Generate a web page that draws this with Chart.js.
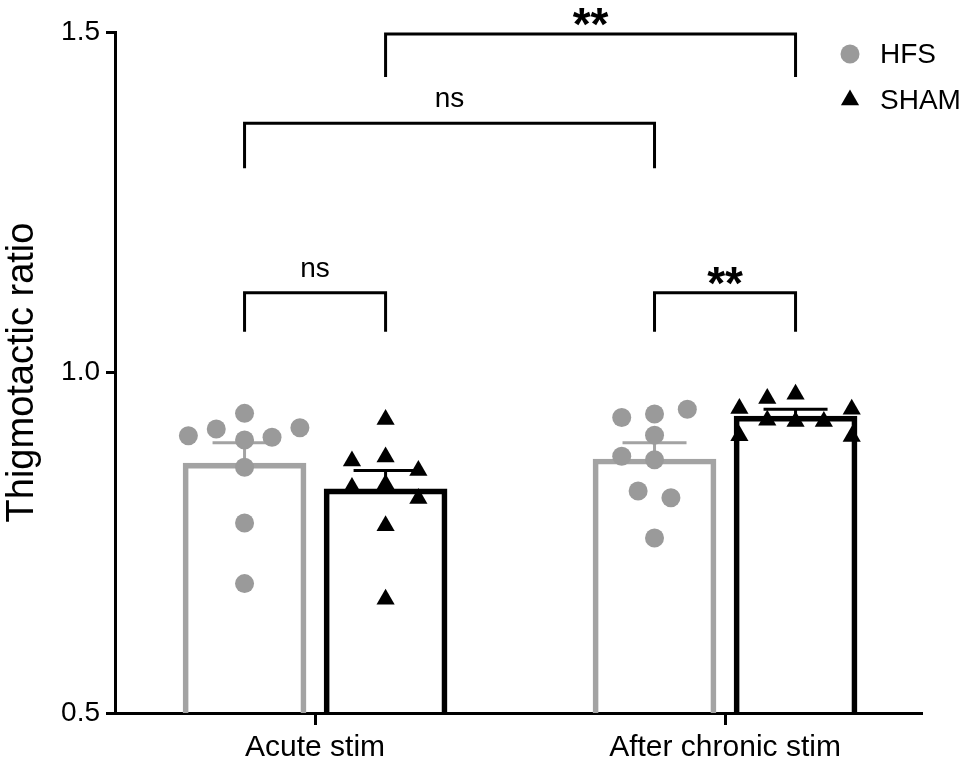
<!DOCTYPE html>
<html>
<head>
<meta charset="utf-8">
<title>Thigmotactic ratio</title>
<script src="https://cdn.jsdelivr.net/npm/chart.js@4.4.1/dist/chart.umd.min.js"></script>
<style>
  html, body { margin: 0; padding: 0; background: #fff; }
  #wrap { width: 968px; height: 760px; }
</style>
</head>
<body>
<div id="wrap"><canvas id="chart"></canvas></div>
<script>
const categories = ['Acute stim', 'After chronic stim'];
const yTicks = [0.5, 1.0, 1.5];

// bar heights (mean) and SEM, one per category
const hfsMean = [0.867, 0.873];
const hfsSem = [0.030, 0.024];
const shamMean = [0.829, 0.936];
const shamSem = [0.027, 0.010];

// single animals per category, with the horizontal spread used in the figure
const hfsPoints = [
  [0.907, 0.917, 0.940, 0.901, 0.905, 0.919, 0.861, 0.779, 0.690],
  [0.934, 0.939, 0.946, 0.908, 0.877, 0.872, 0.826, 0.816, 0.757]
];
const hfsJitter = [
  [-0.137, -0.069, 0, 0, 0.067, 0.135, 0, 0, 0],
  [-0.08, 0, 0.08, 0, -0.08, 0, -0.04, 0.04, 0]
];
const shamPoints = [
  [0.931, 0.870, 0.876, 0.856, 0.831, 0.836, 0.815, 0.775, 0.667],
  [0.947, 0.962, 0.968, 0.946, 0.930, 0.928, 0.928, 0.907, 0.906]
];
const shamJitter = [
  [0, -0.082, 0, 0.08, -0.082, 0, 0.08, 0, 0],
  [-0.137, -0.069, 0, 0.137, -0.069, 0, 0.069, -0.137, 0.137]
];

// significance brackets: from bar, to bar, line level, leg end, label
const brackets = [
  ['sham0', 'sham1', 1.497, 1.434, '**'],
  ['hfs0', 'hfs1', 1.366, 1.300, 'ns'],
  ['hfs0', 'sham0', 1.117, 1.060, 'ns'],
  ['hfs1', 'sham1', 1.117, 1.060, '**']
];

const GREY = '#a3a3a3';
const DOT_GREY = '#9a9a9a';
const BLACK = '#000000';
const FONT = '"Liberation Sans", Arial, Helvetica, sans-serif';
const BAR_OFF = 0.172;   // half distance between the two bars of a group

function barX(key) {
  const i = Number(key.slice(-1));
  return key.startsWith('hfs') ? i - BAR_OFF : i + BAR_OFF;
}

function pointsFor(values, jitter, off) {
  const out = [];
  values.forEach((list, c) => {
    list.forEach((v, k) => out.push({ x: c + off + jitter[c][k], y: v }));
  });
  return out;
}

// mean + SEM whisker above each bar, drawn in the bar colour
const errorBars = {
  id: 'errorBars',
  afterDatasetDraw(chart, args) {
    const ds = chart.data.datasets[args.index];
    if (!ds.sem) return;
    const ctx = chart.ctx;
    const y = chart.scales.y;
    ctx.save();
    ctx.strokeStyle = ds.borderColor;
    ctx.lineWidth = 3;
    args.meta.data.forEach((bar, i) => {
      const top = y.getPixelForValue(ds.data[i].y + ds.sem[i]);
      ctx.beginPath();
      ctx.moveTo(bar.x, bar.y);
      ctx.lineTo(bar.x, top);
      ctx.moveTo(bar.x - 32, top);
      ctx.lineTo(bar.x + 32, top);
      ctx.stroke();
    });
    ctx.restore();
  }
};

const sigBrackets = {
  id: 'sigBrackets',
  afterDraw(chart) {
    const ctx = chart.ctx;
    const xs = chart.scales.x, ys = chart.scales.y;
    ctx.save();
    ctx.strokeStyle = BLACK;
    ctx.fillStyle = BLACK;
    ctx.lineWidth = 3;
    ctx.lineJoin = 'miter';
    brackets.forEach(b => {
      const x1 = xs.getPixelForValue(barX(b[0]));
      const x2 = xs.getPixelForValue(barX(b[1]));
      const yl = ys.getPixelForValue(b[2]);
      const ye = ys.getPixelForValue(b[3]);
      ctx.beginPath();
      ctx.moveTo(x1, ye);
      ctx.lineTo(x1, yl);
      ctx.lineTo(x2, yl);
      ctx.lineTo(x2, ye);
      ctx.stroke();
      ctx.textAlign = 'center';
      ctx.textBaseline = 'alphabetic';
      if (b[4] === '**') {
        ctx.font = 'bold 46px ' + FONT;
        ctx.fillText(b[4], (x1 + x2) / 2, yl + 6);
      } else {
        ctx.font = '28px ' + FONT;
        ctx.fillText(b[4], (x1 + x2) / 2, yl - 16);
      }
    });
    ctx.restore();
  }
};

// legend in the top right corner, using the point styles of the scatter sets
const cornerLegend = {
  id: 'cornerLegend',
  afterDraw(chart) {
    const ctx = chart.ctx;
    const sets = chart.data.datasets.filter(d => d.type === 'scatter');
    ctx.save();
    sets.forEach((ds, i) => {
      const cy = 54 + i * 46;
      ctx.fillStyle = ds.backgroundColor;
      Chart.helpers.drawPoint(ctx, { pointStyle: ds.pointStyle, radius: ds.pointRadius, rotation: 0, borderWidth: 0 }, 850, cy);
      ctx.fillStyle = BLACK;
      ctx.font = '28px ' + FONT;
      ctx.textAlign = 'left';
      ctx.textBaseline = 'middle';
      ctx.fillText(ds.label, 880, cy + 1);
    });
    ctx.restore();
  }
};

const ctx = document.getElementById('chart').getContext('2d');
new Chart(ctx, {
  data: {
    datasets: [
      {
        type: 'bar',
        label: 'HFS',
        data: hfsMean.map((v, i) => ({ x: i - BAR_OFF, y: v })),
        sem: hfsSem,
        backgroundColor: 'rgba(255,255,255,0)',
        borderColor: GREY,
        borderWidth: 5,
        borderSkipped: 'bottom',
        grouped: false,
        maxBarThickness: 123,
        categoryPercentage: 1,
        barPercentage: 1,
        order: 2
      },
      {
        type: 'bar',
        label: 'SHAM',
        data: shamMean.map((v, i) => ({ x: i + BAR_OFF, y: v })),
        sem: shamSem,
        backgroundColor: 'rgba(255,255,255,0)',
        borderColor: BLACK,
        borderWidth: 5,
        borderSkipped: 'bottom',
        grouped: false,
        maxBarThickness: 123,
        categoryPercentage: 1,
        barPercentage: 1,
        order: 2
      },
      {
        type: 'scatter',
        label: 'HFS',
        data: pointsFor(hfsPoints, hfsJitter, -BAR_OFF),
        pointStyle: 'circle',
        pointRadius: 9.5,
        backgroundColor: DOT_GREY,
        borderWidth: 0,
        order: 1
      },
      {
        type: 'scatter',
        label: 'SHAM',
        data: pointsFor(shamPoints, shamJitter, BAR_OFF),
        pointStyle: 'triangle',
        pointRadius: 10.5,
        backgroundColor: BLACK,
        borderWidth: 0,
        order: 1
      }
    ]
  },
  options: {
    responsive: true,
    maintainAspectRatio: false,
    animation: false,
    layout: { padding: { top: 32, right: 47, bottom: 0, left: 0 } },
    plugins: {
      legend: { display: false },
      tooltip: { enabled: false }
    },
    scales: {
      x: {
        type: 'linear',
        offset: false,
        min: -0.488,
        max: 1.478,
        afterBuildTicks: scale => { scale.ticks = categories.map((c, i) => ({ value: i })); },
        afterFit: scale => { scale.height = 47; },
        ticks: {
          callback: v => categories[v],
          color: BLACK,
          font: { family: FONT, size: 30 },
          padding: 5,
          maxRotation: 0
        },
        grid: { offset: false, drawOnChartArea: false, color: BLACK, lineWidth: 3, tickLength: 12 },
        border: { color: BLACK, width: 3 }
      },
      y: {
        min: 0.5,
        max: 1.5,
        afterBuildTicks: scale => { scale.ticks = yTicks.map(v => ({ value: v })); },
        afterFit: scale => { scale.width = 115; },
        ticks: {
          callback: v => v.toFixed(1),
          color: BLACK,
          font: { family: FONT, size: 28 },
          padding: 6
        },
        grid: { drawOnChartArea: false, color: BLACK, lineWidth: 3, tickLength: 9 },
        border: { color: BLACK, width: 3 },
        title: {
          display: true,
          text: 'Thigmotactic ratio',
          color: BLACK,
          font: { family: FONT, size: 38 },
          padding: { top: 0, bottom: 0 }
        }
      }
    }
  },
  plugins: [errorBars, sigBrackets, cornerLegend]
});
</script>
</body>
</html>
